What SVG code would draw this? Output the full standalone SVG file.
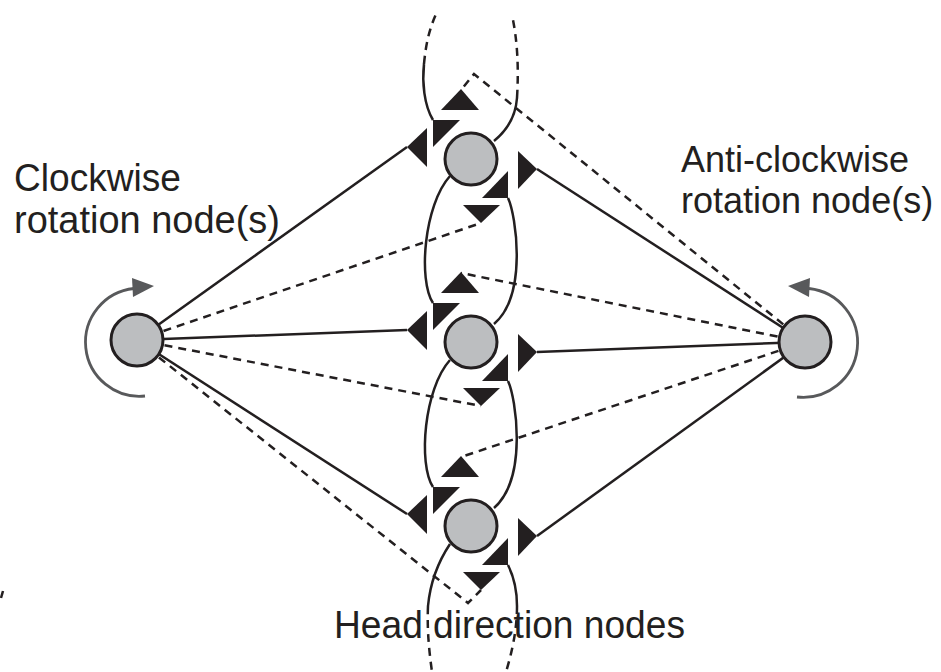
<svg xmlns="http://www.w3.org/2000/svg" width="941" height="672" viewBox="0 0 941 672">
<style>
.ln{fill:none;stroke:#231f20;stroke-width:2.5}
.dl{fill:none;stroke:#231f20;stroke-width:2.5;stroke-dasharray:8 6}
.nd{fill:#bcbec0;stroke:#231f20;stroke-width:3}
.rot{fill:none;stroke:#58595b;stroke-width:2.8}
.rh{fill:#58595b}
.tri{fill:#231f20}
.lbl{font-family:"Liberation Sans",Arial,Helvetica,sans-serif;font-size:38px;fill:#231f20}
.lblr{font-family:"Liberation Sans",Arial,Helvetica,sans-serif;font-size:36px;fill:#231f20}
</style>
<defs>
<g id="syn">
<polygon class="tri" points="-10,-70 -30,-49 8,-49"/>
<polygon class="tri" points="-38,-39 -11,-39 -38,-12"/>
<polygon class="tri" points="-64,-12 -44,-31 -44,8"/>
<polygon class="tri" points="66,10 47,-8 47,30"/>
<polygon class="tri" points="37,12 37,39 11,39"/>
<polygon class="tri" points="-8,46 29,46 10,64"/>
</g>
</defs>
<rect width="941" height="672" fill="#ffffff"/>
<g id="connectors">
<path class="ln" d="M137,340 L407,147"/>
<path class="ln" d="M137,340 L407,330"/>
<path class="ln" d="M137,340 L407,514"/>
<path class="dl" d="M137,340 L481,223"/>
<path class="dl" d="M137,340 L481,406"/>
<path class="dl" d="M137,340 L468,603 L481,590"/>
<path class="ln" d="M805,342 L537,169"/>
<path class="ln" d="M805,342 L537,352"/>
<path class="ln" d="M805,342 L537,536"/>
<path class="dl" d="M805,342 L474,74 L461,90"/>
<path class="dl" d="M805,342 L461,273"/>
<path class="dl" d="M805,342 L461,457"/>
<path class="ln" d="M450,176 C424,205 418,280 433,303"/>
<path class="ln" d="M508,198 C516,215 528,295 494,324"/>
<path class="ln" d="M450,360 C424,389 418,464 433,487"/>
<path class="ln" d="M508,381 C516,398 528,478 494,508"/>
<path class="ln" d="M433,120 C424,105 422,82 424,64"/>
<path class="dl" d="M424,64 C426,42 430,27 437,12"/>
<path class="ln" d="M494,141 C510,128 516,112 517,98"/>
<path class="dl" d="M517,98 C519,65 517,38 512,15"/>
<path class="ln" d="M450,544 C438,562 430,585 428,606"/>
<path class="dl" d="M428,606 C427,630 429,650 432,672"/>
<path class="ln" d="M508,565 C514,577 517,592 517,606"/>
<path class="dl" d="M517,606 C517,630 512,652 506,672"/>
<path class="ln" d="M1,598 L3,591"/>
</g>
<g id="hd-top">
<circle class="nd" cx="471" cy="159" r="26"/>
<use href="#syn" x="471" y="159"/>
</g>
<g id="hd-middle">
<circle class="nd" cx="471" cy="342" r="26"/>
<use href="#syn" x="471" y="342"/>
</g>
<g id="hd-bottom">
<circle class="nd" cx="471" cy="526" r="26"/>
<use href="#syn" x="471" y="526"/>
</g>
<g id="cw-node">
<path class="rot" d="M145,396 A54,54 0 0 1 134,288.5"/>
<polygon class="rh" points="154,286 132,278 133,297"/>
<circle class="nd" cx="137" cy="340" r="26"/>
</g>
<g id="acw-node">
<path class="rot" d="M797,397 A54,54 0 0 0 809,288.5"/>
<polygon class="rh" points="788,286 810,278 809,297"/>
<circle class="nd" cx="805" cy="342" r="26"/>
</g>
<g id="labels">
<text class="lbl" x="14" y="191" textLength="167" lengthAdjust="spacingAndGlyphs">Clockwise</text>
<text class="lbl" x="14" y="233" textLength="266" lengthAdjust="spacingAndGlyphs">rotation node(s)</text>
<text class="lblr" x="681" y="172">Anti-clockwise</text>
<text class="lblr" x="681" y="213">rotation node(s)</text>
<text class="lbl" x="334" y="638" textLength="351" lengthAdjust="spacingAndGlyphs">Head direction nodes</text>
</g>
</svg>
